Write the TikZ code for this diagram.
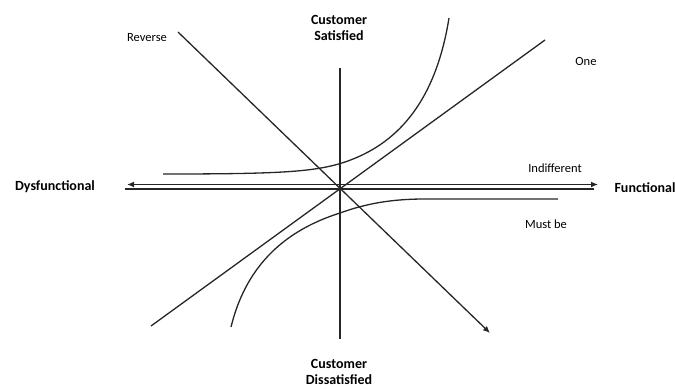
\documentclass[tikz,border=0pt]{standalone}
\usepackage{fontspec}
\setmainfont{Carlito}
\usetikzlibrary{arrows.meta}
\begin{document}
\begin{tikzpicture}[x=1pt,y=-1pt,
  ln/.style={line width=1.3pt,draw=black!85},
  tip/.style={-{Latex[length=7pt,width=6pt]}},
  bl/.style={font=\bfseries\fontsize{14}{16}\selectfont,align=center,inner sep=1pt},
  rl/.style={font=\fontsize{12.5}{14}\selectfont,inner sep=1pt}]
\useasboundingbox (0,0) rectangle (675,389);
% label nodes
\node[bl] (sat) at (339,28) {Customer\\Satisfied};
\node[bl] (dis) at (339,372) {Customer\\Dissatisfied};
\node[bl] (dys) at (55,187) {Dysfunctional};
\node[bl] (fun) at (645,188) {Functional};
\node[rl] (rev) at (147,38) {Reverse};
\node[rl] (one) at (586,61) {One};
\node[rl] (ind) at (555,168) {Indifferent};
\node[rl] (must) at (546,224) {Must be};
% coordinates
\coordinate (o) at (340,189);
\coordinate (vt) at (340,68);
\coordinate (vb) at (340,339);
\coordinate (hl) at (127,184.5);
\coordinate (hr) at (598,184.5);
\coordinate (il) at (125,189);
\coordinate (ir) at (594,189);
\coordinate (rs) at (178,32);
\coordinate (re) at (490,333);
\coordinate (os) at (151,326);
\coordinate (oe) at (545,40);
\coordinate (as) at (163,174);
\coordinate (ae) at (449,18);
\coordinate (ms) at (231,327);
\coordinate (me) at (558,199);
% axes
\draw[ln] (vt) -- (vb);
\draw[ln,{Latex[length=7pt,width=6pt]}-{Latex[length=7pt,width=6pt]}] (hl) -- (hr);
\draw[ln] (il) -- (ir);
% reverse
\draw[ln,tip] (rs) -- (re);
% one-dimensional
\draw[ln] (os) -- (oe);
% attractive curve
\draw[ln] (as) .. controls (280,174) and (315,172) .. (345,162)
  .. controls (395,145) and (435,105) .. (ae);
% must be curve
\draw[ln] (ms) .. controls (245,270) and (280,232) .. (340,213)
  .. controls (365,204) and (390,199) .. (425,199) -- (me);
\end{tikzpicture}
\end{document}
